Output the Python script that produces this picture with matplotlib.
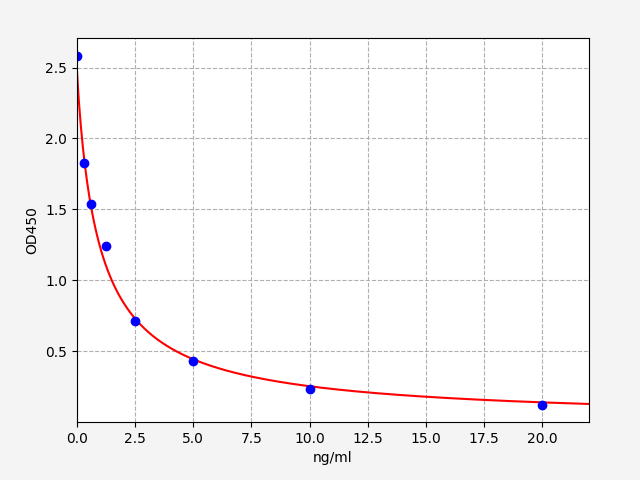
import numpy as np
import matplotlib
matplotlib.use("Agg")
import matplotlib.pyplot as plt

conc = [0, 0.3125, 0.625, 1.25, 2.5, 5, 10, 20]
od = [2.58, 1.83, 1.54, 1.24, 0.71, 0.43, 0.235, 0.12]
# four-parameter logistic fit: top, slope, midpoint, bottom
fit_top = 2.5
fit_slope = 0.94
fit_mid = 0.974
fit_bottom = 0.0
x_max = 22

x = np.array(conc, dtype=float)
y = np.array(od, dtype=float)

xs = np.linspace(0, x_max, 500)
ys = fit_bottom + (fit_top - fit_bottom) / (1.0 + (xs / fit_mid) ** fit_slope)

fig = plt.figure(figsize=(6.4, 4.8), dpi=100, facecolor="#f4f4f4")
ax = fig.add_axes([0.12, 0.121, 0.8, 0.8])
ax.plot(xs, ys, color="red")
ax.plot(x, y, "bo")
ax.set_xlim(0, x_max)
ax.set_ylim(0, max(od) * 1.05)
ax.set_xticks(np.arange(0, 20.1, 2.5))
ax.set_yticks([0.5, 1.0, 1.5, 2.0, 2.5])
ax.grid(True, linestyle="--")
ax.set_xlabel("ng/ml")
ax.set_ylabel("OD450")
fig.savefig("out.png", dpi=100, facecolor=fig.get_facecolor())
